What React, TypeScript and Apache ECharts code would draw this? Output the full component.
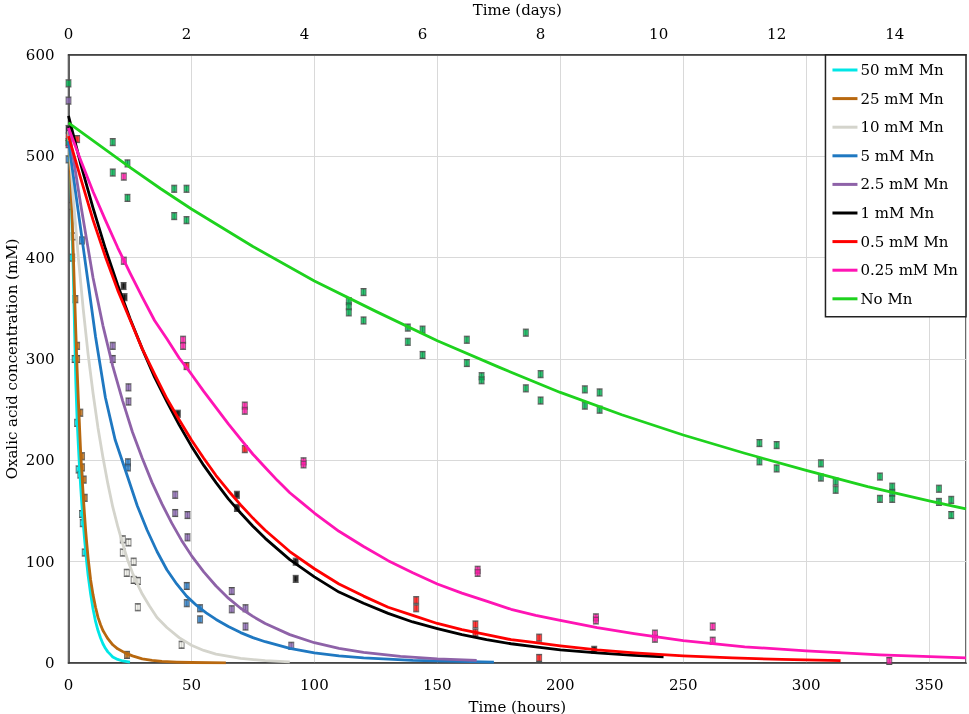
import React, { useEffect, useRef } from "react";
import * as echarts from "echarts";

type P = [number, number];

// Fitted curves (hours, mM)
const curve50: P[] = [[0,520],[0.5,505],[1,470],[1.5,425],[2,380],[2.5,325],[3,275],[3.5,240],[4,215],[4.5,192],[5,172],[5.5,154],[6,138],[6.5,123],[7,110],[7.5,97],[8,86],[9,68],[10,53],[11,41],[12,32],[13,25],[14,19],[15,14.5],[16,11],[17,8.5],[18,6],[20,3.5],[22,2],[25,0.8]];
const curve25: P[] = [[0,525],[0.5,505],[1,470],[1.5,438],[2,400],[2.5,362],[3,325],[3.5,290],[4,260],[4.5,232],[5,205],[5.5,185],[6,165],[6.5,147],[7,130],[7.5,116],[8,103],[9,82],[10,67],[11,55],[12,45],[13,38],[14,32],[15,28],[16,24],[18,18],[20,14],[23,10],[26,7],[30,4],[34,2.6],[38,1.6],[44,0.9],[50,0.5],[64,0.2]];
const curve10: P[] = [[0,525],[2,457],[4,400],[6,349],[8,304],[10,266],[12,232],[14,203],[16,177],[18,154],[20,135],[22,118],[24,102],[26,89],[28,78],[30,68],[33,56],[36,45],[40,35],[45,25],[50,17.5],[55,12.4],[60,8.8],[70,4.5],[80,2.3],[90,1.2]];
const curve5: P[] = [[0,515],[4,445],[8,375],[11,322],[15,262],[19,220],[24,184],[28,155],[32,131],[36,110],[40,92],[44,78],[48,66],[52,57],[56,49.5],[60,43],[65,36],[70,30],[75,25],[80,21],[90,14.5],[100,10],[110,7],[120,5],[140,2.5],[173,0.8]];
const curve2p5: P[] = [[0,528],[5,452],[10,380],[14,333],[18,293],[22,259],[26,228],[30,202],[34,178],[38,157],[42,138],[46,121],[50,106],[55,90],[60,76],[65,64],[70,54],[75,46],[80,39],[90,28],[100,20],[110,14.5],[120,10.5],[135,6.5],[150,4],[166,2.5]];
const curve1: P[] = [[0,540],[5,492],[10,449],[15,409],[20,373],[25,340],[30,310],[35,282],[40,258],[45,235],[50,214],[55,195],[60,178],[65,162],[70,148],[75,135],[80,123],[90,102],[100,85],[110,70],[120,59],[130,49],[140,40.5],[150,34],[160,28],[170,23],[180,19],[190,16],[200,13],[215,10],[230,7.5],[242,6]];
const curve0p5: P[] = [[0,520],[5,478],[10,437],[15,401],[20,368],[25,339],[30,310],[35,285],[40,261],[45,240],[50,220],[55,202],[60,185],[65,170],[70,156],[75,143],[80,131],[90,110],[100,93],[110,78],[120,66],[130,55],[140,47],[150,39],[160,33],[170,28],[180,23],[190,20],[200,17],[215,13],[230,10],[250,7],[270,5],[290,3.5],[314,2.3]];
const curve0p25: P[] = [[0,528],[5,496],[10,465],[15,437],[20,410],[25,385],[30,361],[35,338],[40,320],[45,301],[50,285],[55,268],[60,252],[65,236],[70,221],[75,206],[80,193],[85,180],[90,168],[95,158],[100,148],[110,130],[120,115],[130,101],[140,89],[150,78],[160,69],[170,61],[180,53],[190,47],[200,42],[215,35],[230,29],[250,22],[275,16],[300,12],[330,8],[365,5]];
const curveNoMn: P[] = [[0,533],[12.5,511],[25,489],[37.5,468],[50,448],[75,411],[100,377],[125,347],[150,318],[175,292],[200,267],[225,245],[250,225],[275,207],[300,190],[325,174],[350,160],[365,152]];

// Measured points (hours, mM)
const pts50: P[] = [[1.5,400],[2.5,300],[3.5,237],[4.1,191],[4.8,186],[5.5,147],[5.8,138],[6.6,109]];
const pts25: P[] = [[2.8,359],[3.5,313],[3.5,300],[4.8,247],[5.5,204],[5.5,193],[6.2,181],[6.6,163],[23.8,8]];
const pts10: P[] = [[1.4,451],[2.1,421],[22.1,122],[22.1,109],[24.4,119],[23.7,89],[26.5,100],[26.5,82],[28.2,81],[28.2,55],[46,18]];
const pts5: P[] = [[0,497],[5.5,417],[24.2,198],[24.2,193],[48.1,76],[48.1,59],[53.5,54],[53.5,43]];
const pts2p5: P[] = [[0,555],[18,313],[18,300],[24.4,272],[24.4,258],[43.4,166],[43.4,148],[48.4,146],[48.4,124],[66.4,71],[66.4,53],[72,54],[72,36],[90.6,17]];
const pts1: P[] = [[0,527],[22.4,372],[22.8,361],[44.5,246],[68.5,166],[68.5,153],[92.4,100],[92.4,83],[213.8,13]];
const pts0p5: P[] = [[0,519],[3.5,517],[48,293],[71.7,211],[141.4,62],[141.4,54],[165.5,38],[165.5,30],[191.4,25],[191.4,5]];
const pts0p25: P[] = [[0,512],[22.5,480],[22.5,397],[46.6,319],[46.6,313],[71.7,254],[71.7,249],[95.6,199],[95.6,196],[166.4,92],[166.4,89],[214.5,45],[214.5,42],[238.5,29],[238.5,24],[262,36],[262,22],[333.8,2]];
const ptsNoMn: P[] = [[0,572],[0,514],[18,514],[18,484],[24,493],[24,459],[43,468],[43,441],[48,468],[48,437],[114,357],[114,352],[114,346],[120,366],[120,338],[138,331],[138,317],[144,329],[144,304],[162,319],[162,296],[168,283],[168,279],[186,326],[186,271],[192,285],[192,259],[210,270],[210,254],[216,267],[216,250],[281,217],[281,199],[288,215],[288,192],[306,197],[306,183],[312,179],[312,171],[330,184],[330,162],[335,174],[335,168],[335,162],[354,172],[354,159],[359,161],[359,146]];

const seriesNames = ["50 mM Mn","25 mM Mn","10 mM Mn","5 mM Mn","2.5 mM Mn","1 mM Mn","0.5 mM Mn","0.25 mM Mn","No Mn"];
const curves = [curve50, curve25, curve10, curve5, curve2p5, curve1, curve0p5, curve0p25, curveNoMn];
const points = [pts50, pts25, pts10, pts5, pts2p5, pts1, pts0p5, pts0p25, ptsNoMn];
const lineColors = ["#00e6e6","#b8680f","#d4d4cc","#1f78c1","#8e62a8","#000000","#ff0000","#ff14b4","#1ed21e"];
const markColors = ["#00d8d8","#b8680f","#f0f0ea","#2a7cc4","#8a66b0","#000000","#ff1010","#ff1aa8","#00b050"];

const X_MAX = 365;
const FONT = "DejaVu Serif";

export default function App() {
  const ref = useRef<HTMLDivElement>(null);
  useEffect(() => {
    document.body.style.margin = "0";
    const chart = echarts.init(ref.current!, null, { renderer: "svg" });
    const allPts: number[][] = [];
    points.forEach((arr) => arr.forEach((p) => allPts.push([p[0], p[1]])));
    const series: any[] = [];
    series.push({
      type: "custom",
      name: "errors",
      xAxisIndex: 0,
      yAxisIndex: 0,
      data: allPts,
      z: 3,
      renderItem: (params: any, api: any) => {
        const x = api.value(0), y = api.value(1);
        const t = api.coord([x, y + 3.5]);
        const b = api.coord([x, y - 3.5]);
        const st = { stroke: "#555", lineWidth: 1 };
        return {
          type: "group",
          children: [
            { type: "line", shape: { x1: t[0], y1: t[1], x2: b[0], y2: b[1] }, style: st },
            { type: "line", shape: { x1: t[0] - 3, y1: t[1], x2: t[0] + 3, y2: t[1] }, style: st },
            { type: "line", shape: { x1: b[0] - 3, y1: b[1], x2: b[0] + 3, y2: b[1] }, style: st },
          ],
        };
      },
    });
    points.forEach((arr, i) => {
      series.push({
        type: "scatter",
        name: seriesNames[i] + " data",
        data: arr,
        symbol: "rect",
        symbolSize: [5, 6],
        z: 4,
        itemStyle: { color: markColors[i], borderColor: "#4a4a4a", borderWidth: 0.8 },
      });
    });
    curves.forEach((arr, i) => {
      series.push({
        type: "line",
        name: seriesNames[i],
        data: arr,
        symbol: "none",
        showSymbol: false,
        smooth: false,
        z: 5,
        lineStyle: { color: lineColors[i], width: 2.8, join: "round" },
        itemStyle: { color: lineColors[i] },
      });
    });
    chart.setOption({
      animation: false,
      textStyle: { fontFamily: FONT, color: "#000" },
      grid: {
        left: 68.5, right: 3, top: 55, bottom: 51,
        containLabel: false,
        outerBoundsMode: "none",
        show: true, borderColor: "#3a3a3a", borderWidth: 1.5, backgroundColor: "transparent",
      },
      legend: {
        data: seriesNames,
        orient: "vertical",
        right: 3,
        top: 55,
        icon: "rect",
        backgroundColor: "#fff",
        borderColor: "#222",
        borderWidth: 1.5,
        borderRadius: 0,
        padding: [6, 8, 9, 7],
        itemWidth: 25,
        itemHeight: 3,
        itemGap: 10.6,
        textStyle: { fontFamily: FONT, fontSize: 15, lineHeight: 18, color: "#000", padding: [0, 0, 0, -2] },
      },
      xAxis: [
        {
          type: "value",
          position: "bottom",
          min: 0,
          max: X_MAX,
          interval: 50,
          name: "Time (hours)",
          nameLocation: "middle",
          nameGap: 36,
          nameTextStyle: { fontFamily: FONT, fontSize: 15, color: "#000" },
          axisLine: { show: true, lineStyle: { color: "#3a3a3a", width: 1.5 } },
          axisTick: { show: false },
          axisLabel: { fontFamily: FONT, fontSize: 15, color: "#000", margin: 14, showMaxLabel: false },
          splitLine: { show: true, lineStyle: { color: "#d9d9d9", width: 1 } },
        },
        {
          type: "value",
          position: "top",
          min: 0,
          max: X_MAX / 24,
          interval: 2,
          name: "Time (days)",
          nameLocation: "middle",
          nameGap: 38,
          nameTextStyle: { fontFamily: FONT, fontSize: 15, color: "#000" },
          axisLine: { show: true, lineStyle: { color: "#3a3a3a", width: 1.5 } },
          axisTick: { show: false },
          axisLabel: { fontFamily: FONT, fontSize: 15, color: "#000", margin: 14, showMaxLabel: false },
          splitLine: { show: false },
        },
      ],
      yAxis: {
        type: "value",
        min: 0,
        max: 600,
        interval: 100,
        name: "Oxalic acid concentration (mM)",
        nameLocation: "middle",
        nameGap: 49,
        nameMoveOverlap: false,
        nameTextStyle: { fontFamily: FONT, fontSize: 15, color: "#000" },
        axisLine: { show: true, lineStyle: { color: "#3a3a3a", width: 1.5 } },
        axisTick: { show: false },
        axisLabel: { fontFamily: FONT, fontSize: 15, color: "#000", margin: 14 },
        splitLine: { show: true, lineStyle: { color: "#d9d9d9", width: 1 } },
      },
      series,
    });
    return () => chart.dispose();
  }, []);
  return <div ref={ref} style={{ position: "fixed", left: 0, top: 0, width: 969, height: 714 }} />;
}
